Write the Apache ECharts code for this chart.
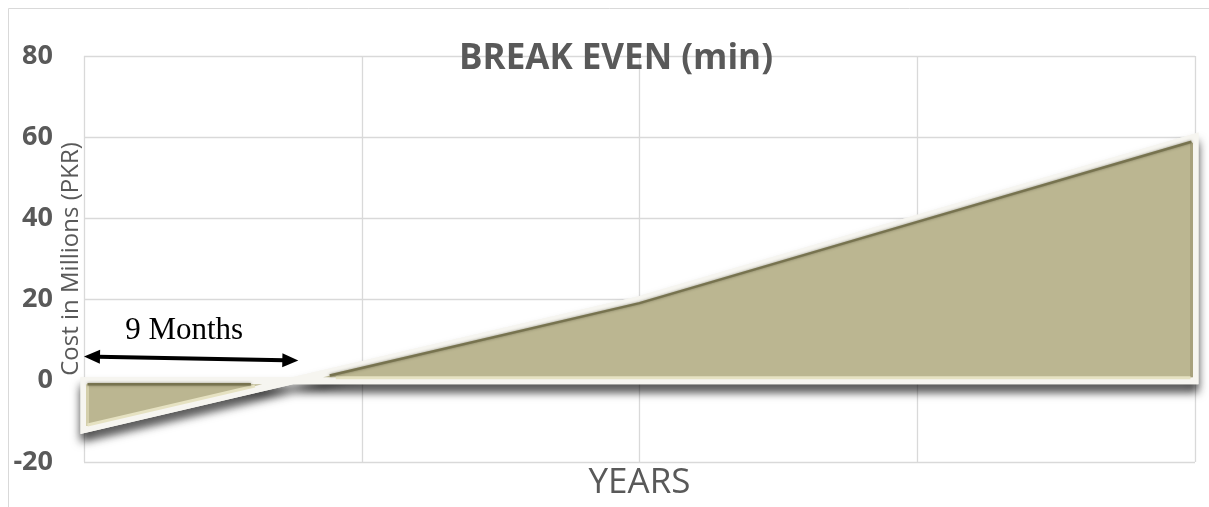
<!DOCTYPE html>
<html>
<head>
<meta charset="utf-8">
<script src="https://cdn.jsdelivr.net/npm/echarts@6/dist/echarts.min.js"></script>
<style>
  html, body { margin: 0; padding: 0; background: #ffffff; }
  #chart { width: 1209px; height: 507px; }
</style>
</head>
<body>
<div id="chart"></div>
<script>
// Years since launch and the cumulative cost position (millions PKR)
const years = ['0', '1', '2', '3', '4'];
const cost = [-12, 4, 20, 40, 60];

// Value axis range and step
const yMin = -20;
const yMax = 80;
const yStep = 20;

// Break-even annotation
const breakEvenMonths = 9;
const breakEvenLabel = '9 Months';
const arrowLevel = [5.5];

const GRAY = '#595959';
const GRID = '#D9D9D9';

const chart = echarts.init(document.getElementById('chart'), null, { renderer: 'canvas' });

// Filled shape between the cost line and zero, with a white rim, drop shadow and bevel edges
function renderArea(params, api) {
  if (params.dataIndex !== 0) return null;
  const n = cost.length;
  const top = cost.map((v, i) => api.coord([i, v]));
  const base = cost.map((v, i) => api.coord([i, 0]));
  const baseY = base[0][1];
  const poly = [base[0]].concat(top, [base[n - 1]]);

  // where the line crosses zero
  let k = 0, cross = base[0];
  for (let i = 0; i < n - 1; i++) {
    if (cost[i] < 0 && cost[i + 1] >= 0) {
      const t = -cost[i] / (cost[i + 1] - cost[i]);
      cross = [top[i][0] + t * (top[i + 1][0] - top[i][0]), baseY];
      k = i;
      break;
    }
  }
  const d = 3.5;
  const children = [];

  children.push({
    type: 'polygon',
    shape: { points: poly },
    style: {
      fill: '#BBB691',
      stroke: '#F6F5F0',
      lineWidth: 7,
      lineJoin: 'miter',
      shadowBlur: 10,
      shadowOffsetY: 8,
      shadowColor: 'rgba(0,0,0,0.62)'
    }
  });
  // redraw without shadow so the rim stays crisp
  children.push({
    type: 'polygon',
    shape: { points: poly },
    style: { fill: '#BBB691', stroke: '#F6F5F0', lineWidth: 7, lineJoin: 'miter' }
  });

  // positive part: dark upper edge, light lower edge, muted right edge
  const s1 = (top[k + 1][1] - cross[1]) / (top[k + 1][0] - cross[0]);
  const startX = cross[0] + (-2.5 * d) / s1;
  const upper = [[startX, baseY + (startX - cross[0]) * s1 + d]];
  for (let i = k + 1; i < n; i++) upper.push([top[i][0] - (i === n - 1 ? d : 0), top[i][1] + d + (i === n - 1 ? 1 : 0)]);
  const last = top[n - 1];
  children.push({
    type: 'polyline',
    shape: { points: [[last[0] - d, last[1] + d + 2], [last[0] - d, baseY - d]] },
    style: { stroke: '#A7A17C', lineWidth: 3, fill: null }
  });
  children.push({
    type: 'polyline',
    shape: { points: [[startX + 6, baseY - d + 0.5], [last[0] - d - 1, baseY - d + 0.5]] },
    style: { stroke: '#E6E2C2', lineWidth: 3, fill: null }
  });
  children.push({
    type: 'polyline',
    shape: { points: upper },
    style: { stroke: '#77734F', lineWidth: 2.5, fill: null, shadowBlur: 3, shadowColor: 'rgba(80,76,50,0.6)' }
  });

  // negative part: dark edge along zero, light sloped and left edges
  const p0 = top[0];
  const s0 = (cross[1] - p0[1]) / (cross[0] - p0[0]);
  const endX = cross[0] - (2.5 * d) / Math.abs(s0);
  children.push({
    type: 'polyline',
    shape: { points: [[p0[0] + d, p0[1] - d], [p0[0] + d, baseY + d]] },
    style: { stroke: '#D4CFAB', lineWidth: 3, fill: null }
  });
  children.push({
    type: 'polyline',
    shape: { points: [[p0[0] + d, p0[1] - d - 1], [endX, cross[1] + (endX - cross[0]) * s0 - d]] },
    style: { stroke: '#E6E2C2', lineWidth: 3, fill: null }
  });
  children.push({
    type: 'polyline',
    shape: { points: [[p0[0] + d, baseY + d], [endX - 4, baseY + d]] },
    style: { stroke: '#77734F', lineWidth: 2.5, fill: null, shadowBlur: 3, shadowColor: 'rgba(80,76,50,0.6)' }
  });

  return { type: 'group', children: children };
}

// Double-headed arrow spanning the months until break-even, with its caption
function renderArrow(params, api) {
  const lvl = api.value(1);
  const a = api.coord([0, lvl]);
  const b = api.coord([1, lvl]);
  const x0 = a[0];
  const x1 = a[0] + (breakEvenMonths / 12) * (b[0] - a[0]) + 6;
  const y0 = a[1] - 2;
  const y1 = a[1] + 2;
  const head = 16, half = 7;
  const ang = Math.atan2(y1 - y0, x1 - x0);
  const c = Math.cos(ang), s = Math.sin(ang);
  const pt = (bx, by, u, v) => [bx + u * c - v * s, by + u * s + v * c];
  return {
    type: 'group',
    children: [
      {
        type: 'line',
        shape: { x1: x0 + head - 2, y1: y0 + (head - 2) * s, x2: x1 - head + 2, y2: y1 - (head - 2) * s },
        style: { stroke: '#000000', lineWidth: 4 }
      },
      {
        type: 'polygon',
        shape: { points: [[x0, y0], pt(x0, y0, head, -half), pt(x0, y0, head, half)] },
        style: { fill: '#000000' }
      },
      {
        type: 'polygon',
        shape: { points: [[x1, y1], pt(x1, y1, -head, -half), pt(x1, y1, -head, half)] },
        style: { fill: '#000000' }
      },
      {
        type: 'text',
        style: {
          x: (x0 + x1) / 2 - 7,
          y: a[1] - 12,
          text: breakEvenLabel,
          align: 'center',
          verticalAlign: 'bottom',
          font: '31px "Liberation Serif", serif',
          fill: '#000000'
        }
      }
    ]
  };
}

const option = {
  backgroundColor: '#ffffff',
  animation: false,
  title: {
    text: 'BREAK EVEN (min)',
    left: 611,
    textAlign: 'center',
    top: 37,
    textStyle: { fontFamily: 'Open Sans', fontWeight: 'bold', fontSize: 35, color: GRAY }
  },
  graphic: [
    {
      type: 'rect',
      shape: { x: 8.5, y: 8.5, width: 1240, height: 540 },
      style: { fill: null, stroke: GRID, lineWidth: 1 },
      silent: true,
      z: -10
    }
  ],
  grid: { left: 84, right: 14, top: 56, bottom: 45, containLabel: false, outerBoundsMode: 'none' },
  xAxis: {
    type: 'category',
    data: years,
    boundaryGap: false,
    name: 'YEARS',
    nameLocation: 'middle',
    nameGap: 4,
    nameMoveOverlap: false,
    nameTextStyle: { fontFamily: 'Open Sans', fontSize: 35, color: GRAY, verticalAlign: 'top' },
    axisLine: { show: false, onZero: false },
    axisTick: { show: false },
    axisLabel: { show: false },
    splitLine: { show: true, lineStyle: { color: GRID, width: 1.3 } }
  },
  yAxis: {
    type: 'value',
    min: yMin,
    max: yMax,
    interval: yStep,
    name: 'Cost in Millions (PKR)',
    nameLocation: 'middle',
    nameRotate: 90,
    nameGap: 1,
    nameMoveOverlap: false,
    nameTextStyle: { fontFamily: 'Open Sans', fontSize: 24, color: GRAY },
    axisLine: { show: false },
    axisTick: { show: false },
    axisLabel: { fontFamily: 'Open Sans', fontWeight: 'bold', fontSize: 27, color: GRAY, margin: 31 },
    splitLine: { show: true, lineStyle: { color: GRID, width: 1.3 } }
  },
  series: [
    {
      type: 'custom',
      name: 'Cost',
      clip: false,
      renderItem: renderArea,
      encode: { x: 0, y: 1 },
      data: cost.map((v, i) => [i, v]),
      z: 2
    },
    {
      type: 'custom',
      name: 'Break-even',
      clip: false,
      renderItem: renderArrow,
      encode: { x: 0, y: 1 },
      data: arrowLevel.map(v => [0, v]),
      z: 3
    }
  ]
};

chart.setOption(option);
</script>
</body>
</html>
